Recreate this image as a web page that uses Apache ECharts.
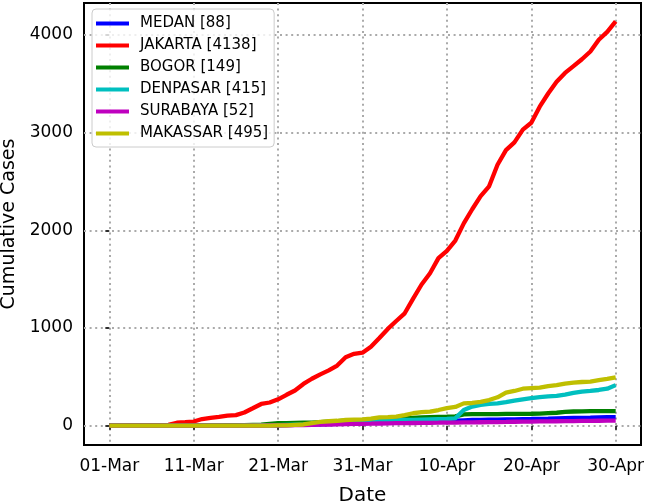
<!DOCTYPE html>
<html>
<head>
<meta charset="utf-8">
<script src="https://cdn.jsdelivr.net/npm/echarts@6/dist/echarts.min.js"></script>
<style>html,body{margin:0;padding:0;background:#fff}#c{width:646px;height:502px}</style>
</head>
<body>
<div id="c"></div>
<script>
// Day index 0 = 01-Mar ... 60 = 30-Apr
const tickDays = [0, 10, 20, 30, 40, 50, 60];
const tickLabels = ['01-Mar', '11-Mar', '21-Mar', '31-Mar', '10-Apr', '20-Apr', '30-Apr'];
const yTicks = [0, 1000, 2000, 3000, 4000];
const seriesNames = ['MEDAN [88]', 'JAKARTA [4138]', 'BOGOR [149]', 'DENPASAR [415]', 'SURABAYA [52]', 'MAKASSAR [495]'];
const seriesColors = ['#0000ff', '#ff0000', '#008000', '#00bfbf', '#bf00bf', '#bfbf00'];

const medan = [0,0,0,0,0,0,0,0,0,0, 0,0,0,0,0,0,1,2,2,3, 4,6,8,10,12,14,16,18,20,22,
  25,28,30,32,34,37,40,42,45,48, 50,52,55,58,60,61,62,64,65,67, 68,70,72,75,77,79,80,82,85,87, 88];
const jakarta = [0,0,2,2,2,4,4,8,30,35, 42,68,80,90,103,108,135,178,222,237, 270,316,360,427,480,525,566,615,700,735,
  747,808,897,990,1071,1150,1300,1445,1560,1715, 1790,1895,2070,2215,2350,2450,2670,2820,2900,3030,
  3100,3265,3400,3520,3610,3680,3750,3830,3950,4030, 4138];
const bogor = [0,0,0,0,0,0,0,0,0,0, 1,1,2,3,4,5,6,8,10,18, 25,26,28,30,32,35,40,45,50,53,
  56,60,63,66,70,75,80,85,88,90, 92,95,115,117,118,118,119,120,120,121, 122,124,128,132,140,145,147,148,148,149, 149];
const denpasar = [0,0,0,0,0,0,0,0,0,0, 0,0,0,0,0,1,2,3,4,5, 6,8,10,12,15,18,22,26,30,33,
  36,40,45,50,54,58,60,62,64,66, 68,75,160,195,212,222,228,240,255,270, 282,292,300,305,318,335,348,355,365,378, 415];
const surabaya = [0,0,0,0,0,0,0,0,0,0, 0,0,0,0,0,0,0,0,1,2, 3,4,5,6,8,10,12,14,16,18,
  19,20,22,23,25,26,27,28,29,30, 31,32,33,34,35,36,37,38,40,41, 42,43,44,45,46,47,48,49,50,51, 52];
const makassar = [0,0,0,0,0,0,0,0,0,0, 0,0,0,0,0,0,0,0,0,0, 2,3,8,12,25,38,45,50,58,62,
  65,72,85,88,92,108,127,138,143,160, 180,192,228,232,243,262,290,338,355,378, 385,390,405,415,430,440,447,451,465,478, 495];

const allValues = [medan, jakarta, bogor, denpasar, surabaya, makassar];

const FONT = 'DejaVu Sans';
const gridLine = { show: true, lineStyle: { color: '#aaaaaa', width: 2, type: [2, 3.6] } };

const chart = echarts.init(document.getElementById('c'), null, { renderer: 'canvas' });
chart.setOption({
  animation: false,
  backgroundColor: '#fff',
  grid: { left: 84, right: 5, top: 3, bottom: 57, show: true, borderColor: '#000', borderWidth: 2,
    containLabel: false, outerBoundsMode: 'none' },
  legend: {
    orient: 'vertical', left: 92, top: 9,
    data: seriesNames,
    icon: 'rect', itemWidth: 33, itemHeight: 4, itemGap: 5,
    padding: [6, 6, 5, 4],
    backgroundColor: 'rgba(255,255,255,0.8)', borderColor: '#cccccc', borderWidth: 1, borderRadius: 4,
    textStyle: { fontFamily: FONT, fontSize: 15, color: '#000', lineHeight: 17, padding: [0, 0, 0, 6] }
  },
  xAxis: {
    type: 'value', min: -3, max: 63,
    name: 'Date', nameLocation: 'middle', nameGap: 41,
    nameTextStyle: { fontFamily: FONT, fontSize: 20, color: '#000' },
    axisLine: { show: false },
    axisTick: { show: true, length: 4, lineStyle: { color: '#000', width: 1.5 }, customValues: tickDays },
    axisLabel: { fontFamily: FONT, fontSize: 17, color: '#000', margin: 13, customValues: tickDays,
      formatter: v => tickLabels[tickDays.indexOf(v)] },
    splitLine: Object.assign({ customValues: tickDays }, gridLine)
  },
  yAxis: {
    type: 'value', min: -198, max: 4326,
    name: 'Cumulative Cases', nameLocation: 'middle', nameGap: 61,
    nameTextStyle: { fontFamily: FONT, fontSize: 19, color: '#000' },
    axisLine: { show: false },
    axisTick: { show: true, length: 4, lineStyle: { color: '#000', width: 1.5 }, customValues: yTicks },
    axisLabel: { fontFamily: FONT, fontSize: 17, color: '#000', margin: 11, customValues: yTicks,
      formatter: v => String(v) },
    splitLine: Object.assign({ customValues: yTicks }, gridLine)
  },
  series: seriesNames.map((n, k) => ({
    name: n, type: 'line', showSymbol: false, symbol: 'none',
    data: allValues[k].map((v, i) => [i, v]),
    lineStyle: { color: seriesColors[k], width: 4.3 },
    itemStyle: { color: seriesColors[k] },
    clip: true
  }))
});
</script>
</body>
</html>
